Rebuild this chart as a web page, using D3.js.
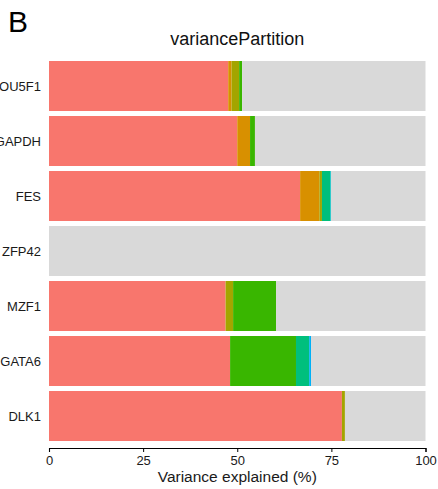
<!DOCTYPE html>
<html>
<head>
<meta charset="utf-8">
<script src="https://cdn.jsdelivr.net/npm/d3@7"></script>
<style>
  body { margin: 0; background: #fff; }
  svg { display: block; font-family: "Liberation Sans", Arial, sans-serif; }
</style>
</head>
<body>
<svg id="chart" width="438" height="489"></svg>
<script>
// genes, top to bottom
const genes = ["POU5F1", "GAPDH", "FES", "ZFP42", "MZF1", "GATA6", "DLK1"];

// variance components (percent), left to right
const comp1 = [47.6, 50.0, 66.7, 0, 46.9, 48.1, 77.8];   // red
const comp2 = [0.9, 3.4, 5.1, 0, 0, 0, 0];               // orange
const comp3 = [2.0, 0, 0.7, 0, 2.0, 0, 0.8];             // olive
const comp4 = [0.8, 1.3, 0, 0, 11.4, 17.5, 0];           // green
const comp5 = [0, 0, 2.2, 0, 0, 3.5, 0];                 // teal
const comp6 = [0, 0, 0.2, 0, 0, 0, 0];                   // cyan
const comp7 = [0, 0, 0, 0, 0, 0.5, 0];                   // blue

const compColors = ["#F8766D", "#D89000", "#A3A500", "#39B600", "#00BF7D", "#00BFC4", "#00B0F6", "#D9D9D9"];
const xTicks = [0, 25, 50, 75, 100];

const comps = [comp1, comp2, comp3, comp4, comp5, comp6, comp7];

// rows with residuals filling up to 100
const rows = genes.map((g, i) => {
  const r = { gene: g };
  let sum = 0;
  comps.forEach((c, k) => { r["c" + k] = c[i]; sum += c[i]; });
  r.resid = 100 - sum;
  return r;
});
const keys = comps.map((_, k) => "c" + k).concat(["resid"]);

const svg = d3.select("#chart");

const x = d3.scaleLinear().domain([0, 100]).range([49, 425.5]);
const y = d3.scaleBand().domain(genes).range([61, 441]).paddingInner(5 / 55).paddingOuter(0);

const stack = d3.stack().keys(keys)(rows);

svg.append("g")
  .selectAll("g")
  .data(stack)
  .join("g")
    .attr("fill", (d, i) => compColors[i])
  .selectAll("rect")
  .data(d => d)
  .join("rect")
    .attr("x", d => x(d[0]))
    .attr("width", d => Math.max(0, x(d[1]) - x(d[0])))
    .attr("y", d => y(d.data.gene))
    .attr("height", y.bandwidth());

// gene labels (the panel is cropped on the left, as in the original figure)
svg.append("g")
  .selectAll("text")
  .data(genes)
  .join("text")
    .attr("x", 41)
    .attr("y", d => y(d) + y.bandwidth() / 2)
    .attr("dy", "0.35em")
    .attr("text-anchor", "end")
    .attr("font-size", 13)
    .attr("fill", "#1a1a1a")
    .text(d => d);

// x axis
const xAxis = svg.append("g")
  .attr("transform", "translate(0,448)")
  .call(d3.axisBottom(x).tickValues(xTicks).tickSize(4).tickPadding(4));
xAxis.select(".domain").attr("stroke", "#000").attr("stroke-width", 1.1);
xAxis.selectAll(".tick line").attr("stroke", "#000");
xAxis.selectAll("text")
  .attr("font-size", 13)
  .attr("fill", "#1a1a1a")
  .attr("font-family", "'Liberation Sans', Arial, sans-serif");

svg.append("text")
  .attr("x", (x(0) + x(100)) / 2)
  .attr("y", 482)
  .attr("text-anchor", "middle")
  .attr("font-size", 15.5)
  .attr("fill", "#1a1a1a")
  .text("Variance explained (%)");

// title
svg.append("text")
  .attr("x", (x(0) + x(100)) / 2)
  .attr("y", 45)
  .attr("text-anchor", "middle")
  .attr("font-size", 18)
  .attr("fill", "#111")
  .text("variancePartition");

// panel tag
svg.append("text")
  .attr("x", 8)
  .attr("y", 32)
  .attr("font-size", 30)
  .attr("fill", "#000")
  .text("B");
</script>
</body>
</html>
